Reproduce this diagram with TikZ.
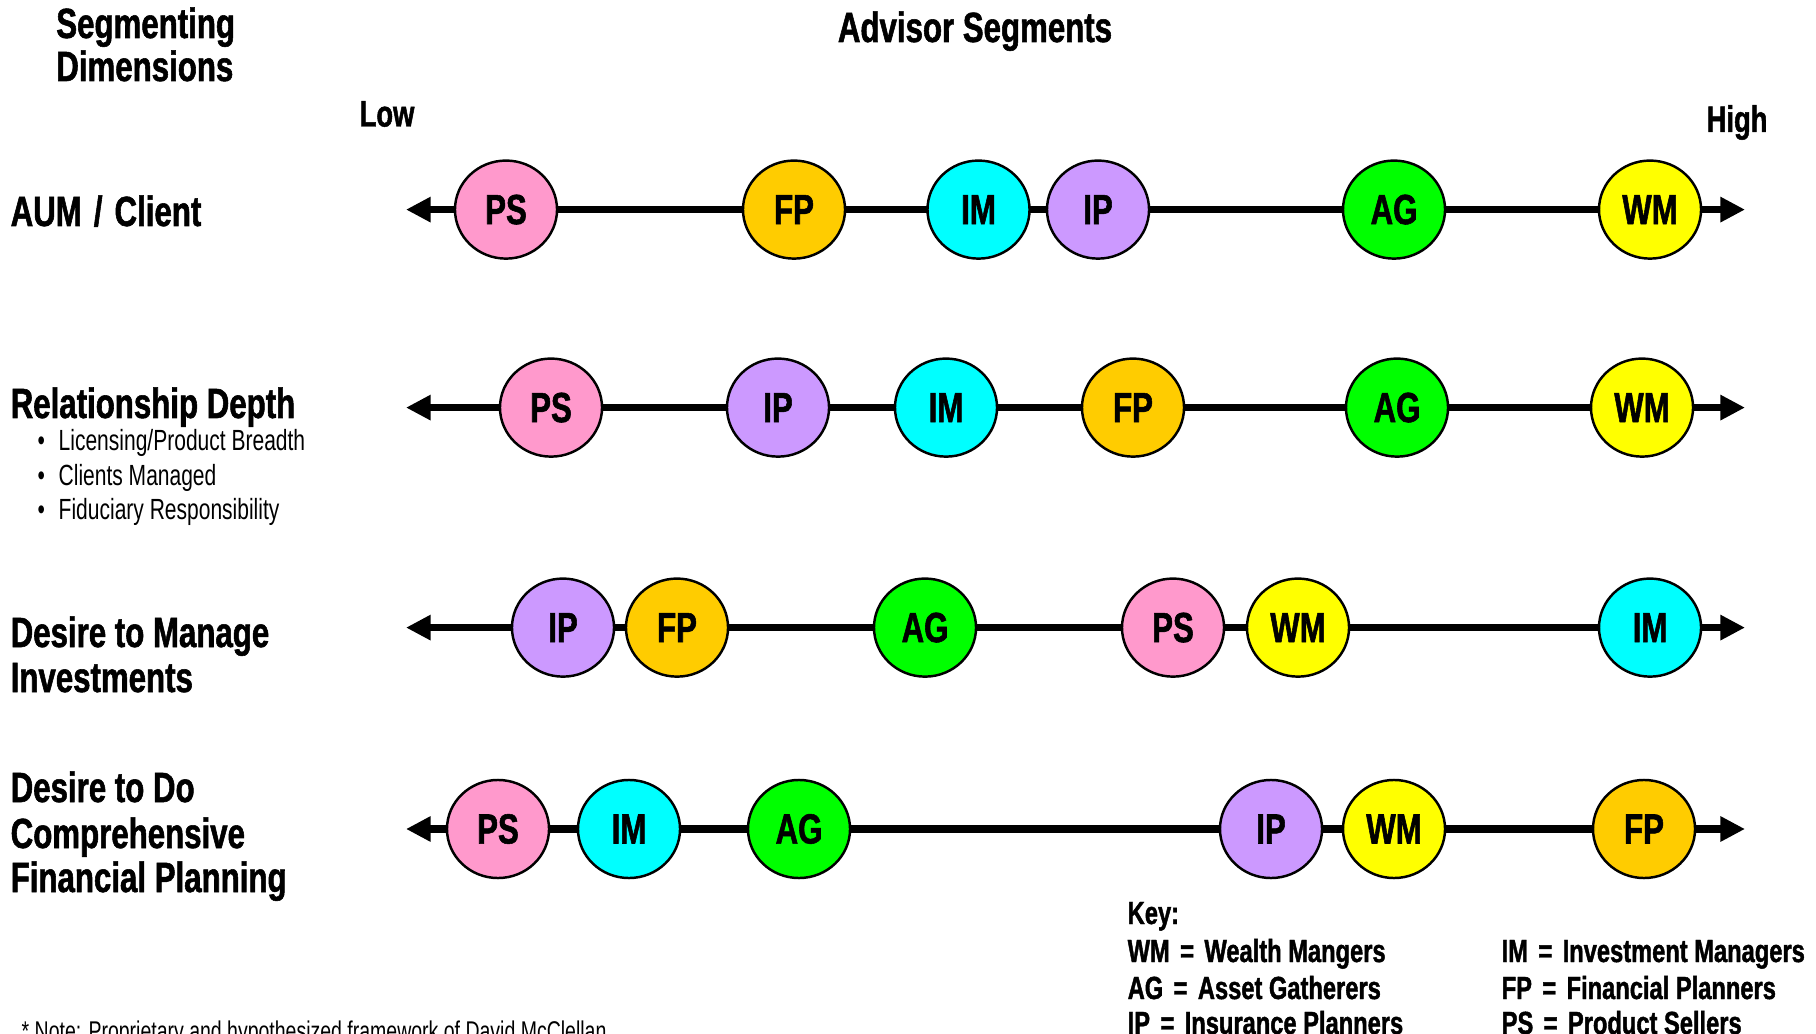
\documentclass[tikz,border=0pt]{standalone}
\usepackage{fontspec}
\setmainfont[FakeStretch=0.72, BoldFeatures={FakeStretch=0.74, FakeBold=1.3}]{Liberation Sans}
\usetikzlibrary{arrows.meta,shapes.geometric}
\pgfdeclarelayer{background}
\pgfsetlayers{background,main}

\definecolor{psc}{HTML}{FF99CC}
\definecolor{fpc}{HTML}{FFCC00}
\definecolor{imc}{HTML}{00FFFF}
\definecolor{ipc}{HTML}{CC99FF}
\definecolor{agc}{HTML}{00FF00}
\definecolor{wmc}{HTML}{FFFF00}

\newcommand\headfont{\fontsize{12}{12}\selectfont\bfseries}
\newcommand\scalefont{\fontsize{10.5}{10.5}\selectfont\bfseries}
\newcommand\bulfont{\fontsize{8.3}{8.3}\selectfont}
\newcommand\keyfont{\fontsize{9.1}{9.1}\selectfont\bfseries}
\newcommand\notefont{\fontsize{7.7}{7.7}\selectfont}
% key entry: abbreviation = meaning, with a roomy equals sign
\newcommand\keyeq[2]{#1\hspace{0.12em} = \hspace{0.12em}#2}

\begin{document}
\begin{tikzpicture}[x=0.01cm,y=-0.01cm,
  seg/.style={ellipse, draw=black, line width=0.7pt, minimum width=1.02cm,
    minimum height=0.98cm, inner sep=0pt, font=\headfont},
  axisline/.style={line width=2pt},
  tipend/.style={axisline, -{Triangle[length=7pt,width=6.8pt]}},
  txt/.style={anchor=base west, inner sep=0pt},
  head/.style={txt, font=\headfont},
  bul/.style={txt, font=\bulfont},
  keytxt/.style={txt, font=\keyfont}]
\useasboundingbox (0,0) rectangle (1816,1034);

% titles
\node[head] (segA) at (55.6,38) {Segmenting};
\node[head] (segB) at (55.6,81) {Dimensions};
\node[anchor=base, inner sep=0pt, font=\headfont] (adv) at (975,42) {Advisor Segments};
\node[txt, font=\scalefont] (low) at (359,126.5) {Low};
\node[txt, font=\scalefont] (high) at (1706,132) {High};

% dimension labels
\node[head] (d1) at (10,226) {AUM\hspace{0.08em} / \hspace{0.08em}Client};
\node[head] (d2) at (10,418) {Relationship Depth};
\node[bul] (b1) at (37,451) {•};
\node[bul] (b1t) at (58,451) {Licensing/Product Breadth};
\node[bul] (b2) at (37,486) {•};
\node[bul] (b2t) at (58,486) {Clients Managed};
\node[bul] (b3) at (37,520) {•};
\node[bul] (b3t) at (58,520) {Fiduciary Responsibility};
\node[head] (d3a) at (10,647) {Desire to Manage};
\node[head] (d3b) at (10,692) {Investments};
\node[head] (d4a) at (10,802) {Desire to Do};
\node[head] (d4b) at (10,848) {Comprehensive};
\node[head] (d4c) at (10,892) {Financial Planning};

% row 1: AUM / Client
\coordinate (l1) at (406,209.6);
\coordinate (r1) at (1745,209.6);
\node[seg, fill=psc] (ps1) at (506,209.6) {PS};
\node[seg, fill=fpc] (fp1) at (794,209.6) {FP};
\node[seg, fill=imc] (im1) at (978.5,209.6) {IM};
\node[seg, fill=ipc] (ip1) at (1098,209.6) {IP};
\node[seg, fill=agc] (ag1) at (1394,209.6) {AG};
\node[seg, fill=wmc] (wm1) at (1650,209.6) {WM};

% row 2: Relationship Depth
\coordinate (l2) at (406,407.6);
\coordinate (r2) at (1745,407.6);
\node[seg, fill=psc] (ps2) at (551,407.6) {PS};
\node[seg, fill=ipc] (ip2) at (778,407.6) {IP};
\node[seg, fill=imc] (im2) at (946,407.6) {IM};
\node[seg, fill=fpc] (fp2) at (1133,407.6) {FP};
\node[seg, fill=agc] (ag2) at (1397,407.6) {AG};
\node[seg, fill=wmc] (wm2) at (1642,407.6) {WM};

% row 3: Desire to Manage Investments
\coordinate (l3) at (406,627.6);
\coordinate (r3) at (1745,627.6);
\node[seg, fill=ipc] (ip3) at (563,627.6) {IP};
\node[seg, fill=fpc] (fp3) at (677,627.6) {FP};
\node[seg, fill=agc] (ag3) at (925,627.6) {AG};
\node[seg, fill=psc] (ps3) at (1173,627.6) {PS};
\node[seg, fill=wmc] (wm3) at (1298,627.6) {WM};
\node[seg, fill=imc] (im3) at (1650,627.6) {IM};

% row 4: Desire to Do Comprehensive Financial Planning
\coordinate (l4) at (406,829);
\coordinate (r4) at (1745,829);
\node[seg, fill=psc] (ps4) at (498,829) {PS};
\node[seg, fill=imc] (im4) at (629,829) {IM};
\node[seg, fill=agc] (ag4) at (799,829) {AG};
\node[seg, fill=ipc] (ip4) at (1271,829) {IP};
\node[seg, fill=wmc] (wm4) at (1394,829) {WM};
\node[seg, fill=fpc] (fp4) at (1644,829) {FP};

% axes behind the segment circles
\begin{pgfonlayer}{background}
  \draw[tipend] (ps1.center) -- (l1);
  \draw[axisline] (ps1.center) -- (fp1.center) -- (im1.center) -- (ip1.center) -- (ag1.center) -- (wm1.center);
  \draw[tipend] (wm1.center) -- (r1);

  \draw[tipend] (ps2.center) -- (l2);
  \draw[axisline] (ps2.center) -- (ip2.center) -- (im2.center) -- (fp2.center) -- (ag2.center) -- (wm2.center);
  \draw[tipend] (wm2.center) -- (r2);

  \draw[tipend] (ip3.center) -- (l3);
  \draw[axisline] (ip3.center) -- (fp3.center) -- (ag3.center) -- (ps3.center) -- (wm3.center) -- (im3.center);
  \draw[tipend] (im3.center) -- (r3);

  \draw[tipend] (ps4.center) -- (l4);
  \draw[axisline] (ps4.center) -- (im4.center) -- (ag4.center) -- (ip4.center) -- (wm4.center) -- (fp4.center);
  \draw[tipend] (fp4.center) -- (r4);
\end{pgfonlayer}

% key
\node[keytxt] (key) at (1127,924) {Key:};
\node[keytxt] (kwm) at (1127,962) {\keyeq{WM}{Wealth Mangers}};
\node[keytxt] (kag) at (1127,999) {\keyeq{AG}{Asset Gatherers}};
\node[keytxt] (kip) at (1127,1034) {\keyeq{IP}{Insurance Planners}};
\node[keytxt] (kim) at (1501,962) {\keyeq{IM}{Investment Managers}};
\node[keytxt] (kfp) at (1501,999) {\keyeq{FP}{Financial Planners}};
\node[keytxt] (kps) at (1501,1034) {\keyeq{PS}{Product Sellers}};

% footnote
\node[txt, font=\notefont] (note) at (21,1040) {* Note: Proprietary and hypothesized framework of David McClellan};
\end{tikzpicture}
\end{document}
